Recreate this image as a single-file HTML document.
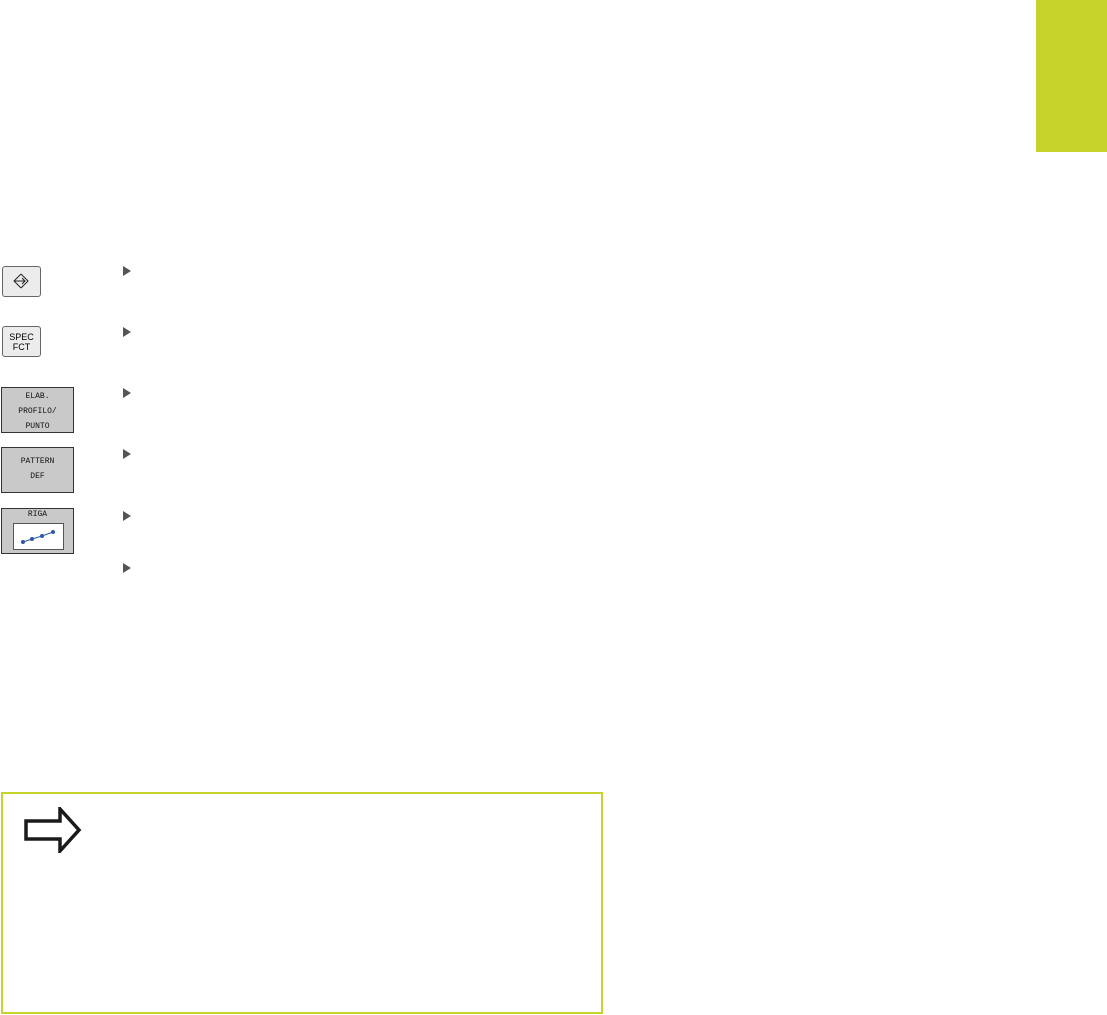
<!DOCTYPE html>
<html><head><meta charset="utf-8"><style>
body{margin:0;width:1107px;height:1015px;background:#fff;position:relative;overflow:hidden;font-family:"Liberation Mono",monospace}
.g{position:absolute;left:1036px;top:0;width:71px;height:152px;background:#c5d32a}
.k{position:absolute;box-sizing:border-box;border:1px solid #666;border-radius:3px;background:#ececec;font-family:"Liberation Sans",sans-serif;font-size:9px;text-align:center;line-height:10px}
.s{position:absolute;box-sizing:border-box;border:1px solid #333;background:#c9c9c9;font-size:8px;text-align:center;color:#111;line-height:15px}
.t{position:absolute;left:123px;width:0;height:0;border-top:5px solid transparent;border-bottom:5px solid transparent;border-left:8px solid #555}
.box{position:absolute;left:1px;top:792px;width:598px;height:218px;border:2px solid #c5d32a}
</style></head><body>
<div class="g"></div>
<div class="k" style="left:2px;top:266px;width:39px;height:31px"><svg width="37" height="29"><path d="M18 7 L25 14 L18 21 M12 14 H22 M19 11 L22 14 L19 17 M18 7 L11 14 L18 21" fill="none" stroke="#222" stroke-width="1"/></svg></div>
<div class="k" style="left:2px;top:326px;width:39px;height:31px;padding-top:5px">SPEC<br>FCT</div>
<div class="s" style="left:1px;top:387px;width:73px;height:46px;padding-top:1px">ELAB.<br>PROFILO/<br>PUNTO</div>
<div class="s" style="left:1px;top:447px;width:73px;height:46px;padding-top:6px">PATTERN<br>DEF</div>
<div class="s" style="left:1px;top:508px;width:73px;height:46px;line-height:12px">RIGA
<svg style="position:absolute;left:11px;top:14px" width="51" height="27"><rect x="0.5" y="0.5" width="50" height="26" fill="#fff" stroke="#555"/><path d="M10 19 L19 16 L29 13 L40 9" stroke="#2a5aa8" fill="none"/><circle cx="10" cy="19" r="2" fill="#2a5aa8"/><circle cx="19" cy="16" r="2" fill="#2a5aa8"/><circle cx="29" cy="13" r="2" fill="#2a5aa8"/><circle cx="40" cy="9" r="2" fill="#2a5aa8"/></svg></div>
<div class="t" style="top:266px"></div>
<div class="t" style="top:327px"></div>
<div class="t" style="top:388px"></div>
<div class="t" style="top:449px"></div>
<div class="t" style="top:511px"></div>
<div class="t" style="top:563px"></div>
<div class="box"></div>
<svg style="position:absolute;left:24px;top:807px" width="58" height="46"><path d="M2 14 H36 V2 L55 23 L36 44 V32 H2 Z" fill="#fff" stroke="#1a1a1a" stroke-width="3.5"/></svg>
</body></html>
